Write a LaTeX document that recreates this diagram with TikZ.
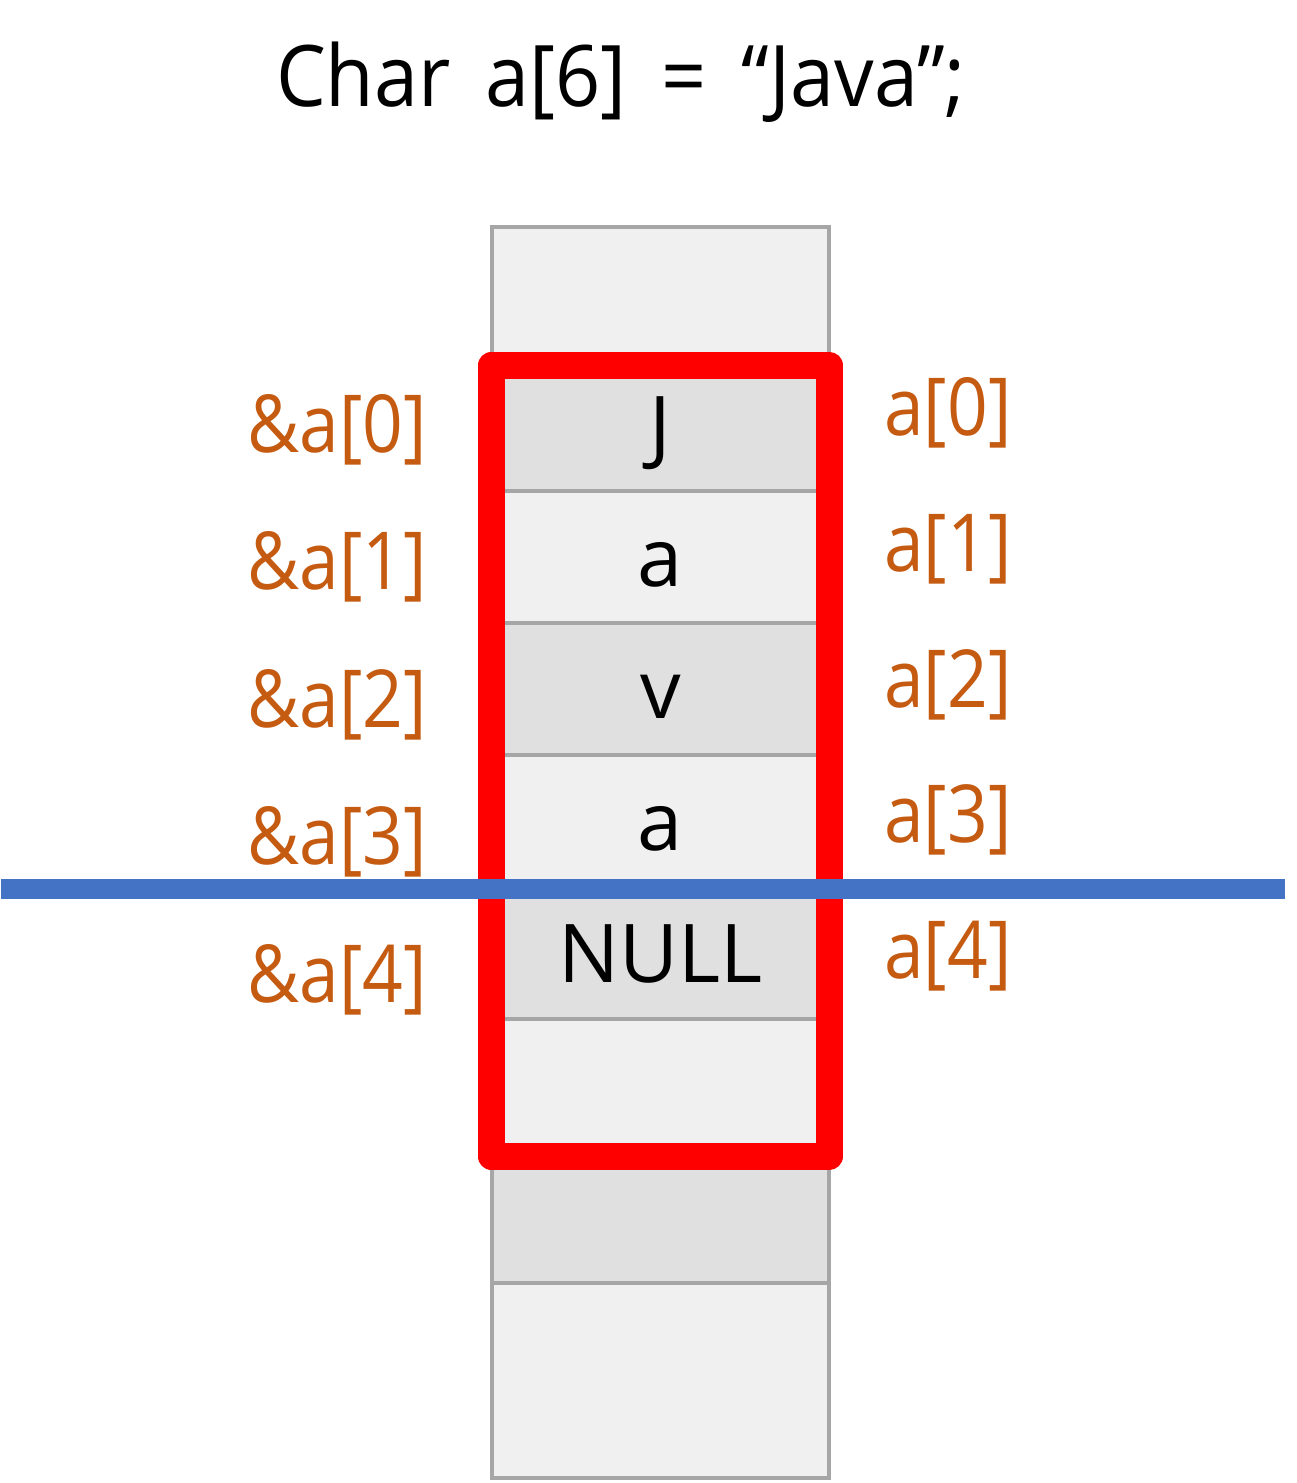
\documentclass[tikz,border=0pt]{standalone}
\usepackage{fontspec}
\setmainfont{Open Sans}
\newfontfamily\labelfont[FakeStretch=0.89]{Open Sans}
\newfontfamily\titlefont[FakeStretch=0.93,WordSpace=1.7]{Open Sans}
\definecolor{celllight}{HTML}{F0F0F0}
\definecolor{celldark}{HTML}{E0E0E0}
\definecolor{cellborder}{HTML}{A6A6A6}
\definecolor{boxred}{HTML}{FF0000}
\definecolor{lineblue}{HTML}{4472C4}
\definecolor{labelorange}{HTML}{C55A11}
\begin{document}
\begin{tikzpicture}[x=0.5pt,y=-0.5pt,
  cell/.style={draw=cellborder, line width=1.75pt, rectangle, inner sep=0pt,
    minimum width=168.5pt, minimum height=66pt,
    font=\fontsize{40.5}{48}\selectfont, text height=29pt, text depth=0pt},
  light/.style={cell, fill=celllight},
  dark/.style={cell, fill=celldark},
  addr/.style={font=\labelfont\fontsize{40}{48}\selectfont, text=labelorange, inner sep=0pt, anchor=base east},
  elem/.style={font=\labelfont\fontsize{40}{48}\selectfont, text=labelorange, inner sep=0pt, anchor=base west}]
\useasboundingbox (0,0) rectangle (1296,1483);
% title
\node[font=\titlefont\fontsize{42.5}{50}\selectfont, anchor=base, inner sep=0pt] (title) at (621,106) {Char a[6] = “Java”;};
% memory cells
\node[light] (c0) at (660.5,293) {};
\node[dark]  (c1) at (660.5,425) {J};
\node[light] (c2) at (660.5,557) {a};
\node[dark]  (c3) at (660.5,689) {v};
\node[light] (c4) at (660.5,821) {a};
\node[dark]  (c5) at (660.5,953) {NULL};
\node[light] (c6) at (660.5,1085) {};
\node[dark]  (c7) at (660.5,1217) {};
\node[light, minimum height=97.5pt] (c8) at (660.5,1380.5) {};
% red array frame
\node[draw=boxred, line width=13.5pt, line join=round, rectangle, inner sep=0pt,
  minimum width=168.75pt, minimum height=395.75pt] (frame) at (660.25,760.75) {};
% address labels
\node[addr] (l0) at (427,452) {\&a[0]};
\node[addr] (l1) at (427,589.5) {\&a[1]};
\node[addr] (l2) at (427,727) {\&a[2]};
\node[addr] (l3) at (427,864.5) {\&a[3]};
\node[addr] (l4) at (427,1002) {\&a[4]};
% element labels
\node[elem] (r0) at (884,435) {a[0]};
\node[elem] (r1) at (884,571) {a[1]};
\node[elem] (r2) at (884,707) {a[2]};
\node[elem] (r3) at (884,842) {a[3]};
\node[elem] (r4) at (884,978) {a[4]};
% blue line
\coordinate (bl) at (1,889);
\coordinate (br) at (1285,889);
\draw[lineblue, line width=10pt] (bl) -- (br);
\end{tikzpicture}
\end{document}
